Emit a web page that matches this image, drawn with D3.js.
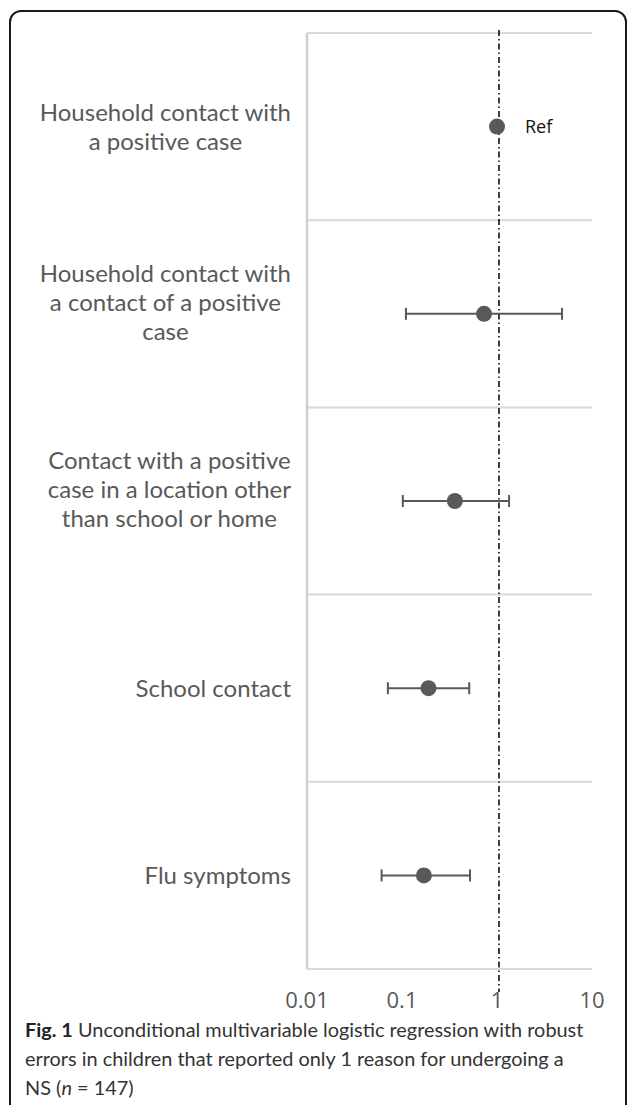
<!DOCTYPE html>
<html>
<head>
<meta charset="utf-8">
<script src="https://cdn.jsdelivr.net/npm/d3@7"></script>
<style>
  html, body { margin: 0; padding: 0; background: #fff; }
  svg { display: block; }
</style>
</head>
<body>
<svg id="chart" width="627" height="1105"></svg>
<script>
// ---- data ----
const categories = [
  ["Household contact with", "a positive case"],
  ["Household contact with", "a contact of a positive", "case"],
  ["Contact with a positive", "case in a location other", "than school or home"],
  ["School contact"],
  ["Flu symptoms"]
];
const oddsRatio = [1, 0.73, 0.36, 0.19, 0.17];
const lowerCI   = [null, 0.11, 0.102, 0.071, 0.061];
const upperCI   = [null, 4.83, 1.34, 0.51, 0.52];
const refLabel  = ["Ref", null, null, null, null];
const xTicks    = [0.01, 0.1, 1, 10];
const xTickLabels = ["0.01", "0.1", "1", "10"];
const captionBold = "Fig. 1";
const captionLines = [
  " Unconditional multivariable logistic regression with robust",
  "errors in children that reported only 1 reason for undergoing a",
  "NS ("
];

// ---- layout ----
const svg = d3.select("#chart");
const font = "'Open Sans', Lato, sans-serif";
const labelFont = "Lato, 'Open Sans', sans-serif";
const grey = "#595959";

// frame (rounded border, runs off the bottom)
svg.append("rect")
  .attr("x", 10).attr("y", 11)
  .attr("width", 616).attr("height", 1200)
  .attr("rx", 11).attr("ry", 11)
  .attr("fill", "none").attr("stroke", "#1a1a1a").attr("stroke-width", 2);

const x = d3.scaleLog().domain([0.01, 10]).range([307, 592]);
const y = d3.scaleBand().domain(d3.range(categories.length)).range([33, 969]).padding(0);

// horizontal gridlines (band boundaries)
const bounds = d3.range(categories.length + 1).map(i => i === categories.length ? y.range()[1] : y(i));
svg.append("g").selectAll("line").data(bounds).join("line")
  .attr("x1", x.range()[0]).attr("x2", x.range()[1])
  .attr("y1", d => d).attr("y2", d => d)
  .attr("stroke", "#d9d9d9").attr("stroke-width", 2);

// vertical axis line
svg.append("line")
  .attr("x1", x.range()[0]).attr("x2", x.range()[0])
  .attr("y1", y.range()[0]).attr("y2", y.range()[1])
  .attr("stroke", "#d0d0d0").attr("stroke-width", 2.5);

// reference dash-dot line at OR = 1
svg.append("line")
  .attr("x1", x(1) + 2).attr("x2", x(1) + 2)
  .attr("y1", 30).attr("y2", 992)
  .attr("stroke", "#000").attr("stroke-width", 1.5)
  .attr("stroke-dasharray", "6,3,1.5,3");

// x tick labels
svg.append("g").selectAll("text").data(xTicks).join("text")
  .attr("x", d => x(d)).attr("y", 1008)
  .attr("text-anchor", "middle")
  .attr("font-family", font).attr("font-size", 22).attr("fill", grey)
  .text((d, i) => xTickLabels[i]);

// category labels: one text per category, lines as tspans;
// block right-aligned to the axis, each line centred in the block
const labelRight = 291;
const lineH = 29;
categories.forEach((lines, i) => {
  const t = svg.append("text")
    .attr("font-family", labelFont).attr("font-size", 24).attr("fill", grey)
    .attr("text-anchor", "middle");
  const spans = lines.map(l => t.append("tspan").text(l));
  const w = d3.max(spans, s => s.node().getComputedTextLength());
  const cx = labelRight - w / 2;
  const cy = y(i) + y.bandwidth() / 2 - (lines.length === 3 ? 11 : 0);
  spans.forEach((s, j) => {
    s.attr("x", cx).attr("y", cy + (j - (lines.length - 1) / 2) * lineH).attr("dy", "0.35em");
  });
});

// error bars
const rows = d3.range(categories.length).filter(i => lowerCI[i] != null);
const eb = svg.append("g").attr("stroke", grey).attr("stroke-width", 2);
rows.forEach(i => {
  const cy = y(i) + y.bandwidth() / 2;
  eb.append("line").attr("x1", x(lowerCI[i])).attr("x2", x(upperCI[i])).attr("y1", cy).attr("y2", cy);
  [lowerCI[i], upperCI[i]].forEach(v => {
    eb.append("line").attr("x1", x(v)).attr("x2", x(v)).attr("y1", cy - 6).attr("y2", cy + 6);
  });
});

// points
svg.append("g").selectAll("circle").data(oddsRatio).join("circle")
  .attr("cx", d => x(d)).attr("cy", (d, i) => y(i) + y.bandwidth() / 2)
  .attr("r", 8).attr("fill", grey);

// Ref label
svg.append("g").selectAll("text").data(refLabel.map((r, i) => ({r, i})).filter(d => d.r)).join("text")
  .attr("x", d => x(oddsRatio[d.i]) + 28).attr("y", d => y(d.i) + y.bandwidth() / 2)
  .attr("dy", "0.35em")
  .attr("font-family", font).attr("font-size", 18).attr("fill", "#111")
  .text(d => d.r);

// caption
const capFont = "Lato, 'Open Sans', sans-serif";
const cap = svg.append("g").attr("font-family", capFont).attr("font-size", 19.9).attr("fill", "#333");
const l1 = cap.append("text").attr("x", 25).attr("y", 1037);
l1.append("tspan").attr("font-weight", "bold").attr("fill", "#222").text(captionBold);
l1.append("tspan").text(captionLines[0]);
cap.append("text").attr("x", 25).attr("y", 1066).text(captionLines[1]);
const l3 = cap.append("text").attr("x", 25).attr("y", 1095);
l3.append("tspan").text(captionLines[2]);
l3.append("tspan").attr("font-style", "italic").text("n");
l3.append("tspan").text(" = 147)");
</script>
</body>
</html>
